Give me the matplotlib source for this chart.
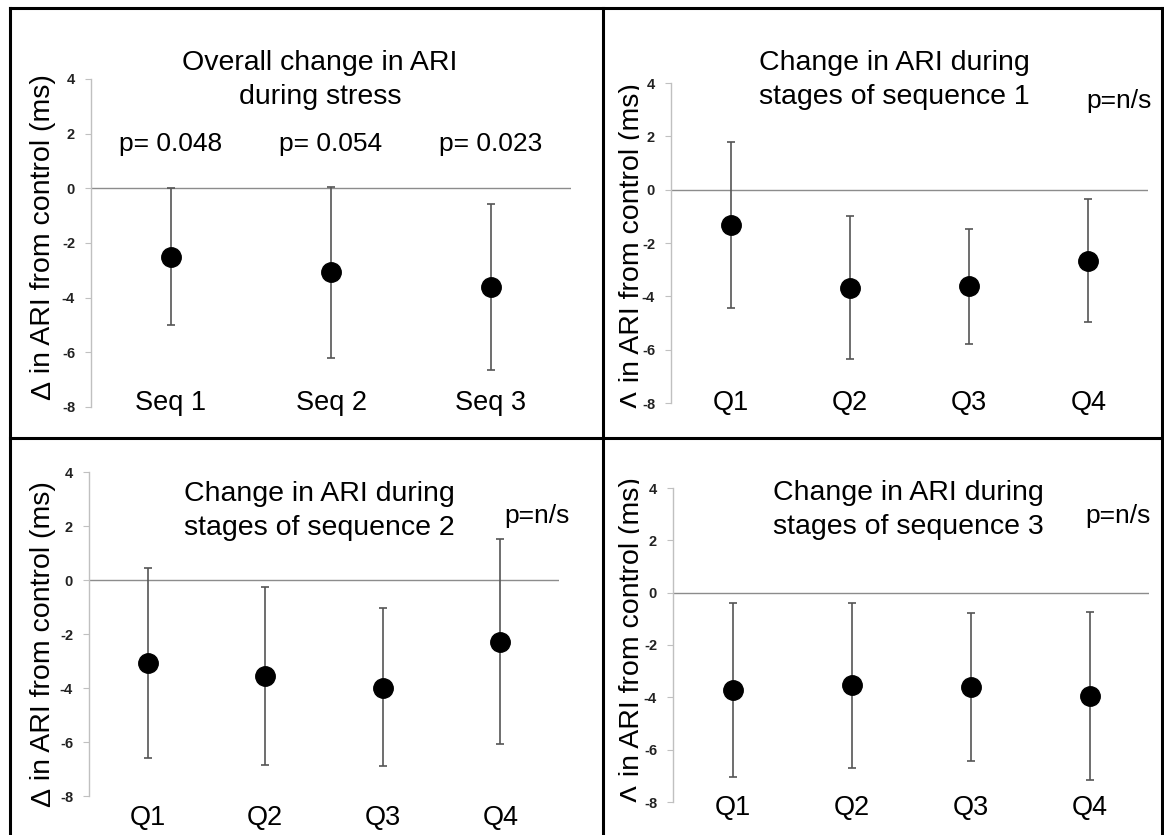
import numpy as np
import matplotlib
matplotlib.use("Agg")
import matplotlib.pyplot as plt
from matplotlib.lines import Line2D
from matplotlib.transforms import Bbox, TransformedBbox

plt.rcParams['font.family'] = ['Liberation Sans', 'DejaVu Sans']
plt.rcParams['axes.unicode_minus'] = False

W, H = 1164, 835

# overall change per sequence
seq_labels = ["Seq 1", "Seq 2", "Seq 3"]
seq_mean = [-2.52, -3.05, -3.60]
seq_upper = [0.0, 0.06, -0.57]
seq_lower = [-5.0, -6.22, -6.65]
seq_p = ["p= 0.048", "p= 0.054", "p= 0.023"]

# stages (quartiles) of each sequence
q_labels = ["Q1", "Q2", "Q3", "Q4"]
s1_mean = [-1.31, -3.69, -3.62, -2.66]
s1_upper = [1.79, -1.00, -1.47, -0.34]
s1_lower = [-4.44, -6.35, -5.77, -4.97]
s2_mean = [-3.09, -3.56, -4.00, -2.31]
s2_upper = [0.46, -0.25, -1.05, 1.51]
s2_lower = [-6.58, -6.87, -6.89, -6.09]
s3_mean = [-3.72, -3.53, -3.59, -3.95]
s3_upper = [-0.38, -0.38, -0.78, -0.73]
s3_lower = [-7.06, -6.71, -6.43, -7.16]

ylab_sym = "\u0394"
ylab_rest = " in ARI from control (ms)"
titles = ["Overall change in ARI\nduring stress",
          "Change in ARI during\nstages of sequence 1",
          "Change in ARI during\nstages of sequence 2",
          "Change in ARI during\nstages of sequence 3"]

fig = plt.figure(figsize=(W / 100, H / 100), dpi=100)
fig.patch.set_facecolor('white')


def fx(px):
    return px / W


def fy(py):
    return 1 - py / H


def panel(box, labels, mean, upper, lower, lab_off):
    l, r, t, b = box
    ax = fig.add_axes([fx(l), fy(b), (r - l) / W, (b - t) / H])
    ax.patch.set_alpha(0)
    x = np.arange(len(labels)) + 0.5
    mean = np.array(mean)
    yerr = [mean - np.array(lower), np.array(upper) - mean]
    ax.axhline(0, color='#8c8c8c', lw=1, zorder=1)
    ax.errorbar(x, mean, yerr=yerr, fmt='o', color='black', ms=14,
                ecolor='#555555', elinewidth=1.2, capsize=3, capthick=1.2,
                zorder=3)
    ax.set_xlim(0, len(labels))
    ax.set_ylim(-8, 4)
    for s in ['top', 'right', 'bottom']:
        ax.spines[s].set_visible(False)
    ax.spines['left'].set_color('#c0c0c0')
    ax.spines['left'].set_linewidth(1)
    ax.set_yticks(range(-8, 5, 2))
    ax.tick_params(axis='y', length=4, color='#c0c0c0', pad=7.5,
                   labelsize=10.5, labelcolor='#222222')
    for tl in ax.get_yticklabels():
        tl.set_fontweight('bold')
    ax.set_xticks(x, labels)
    ax.tick_params(axis='x', length=0, pad=lab_off * 0.72, labelsize=19.5)
    for tl in ax.get_xticklabels():
        tl.set_va('center')
    return ax, x


ax1, x1 = panel((91, 571, 79, 407), seq_labels, seq_mean, seq_upper, seq_lower, -4)
ax2, x2 = panel((671, 1148, 83, 403), q_labels, s1_mean, s1_upper, s1_lower, 0)
ax3, x3 = panel((89, 559, 472, 796), q_labels, s2_mean, s2_upper, s2_lower, 22)
ax4, x4 = panel((673, 1149, 488, 802), q_labels, s3_mean, s3_upper, s3_lower, 6)

for xi, p in zip(x1, seq_p):
    ax1.text(xi, 1.62, p, ha='center', va='center', fontsize=19)

# titles
for (cx, cy), t in zip([(320, 80), (894, 80.5), (319, 511), (908, 509.5)], titles):
    fig.text(fx(cx), fy(cy), t, ha='center', va='center', fontsize=20.5,
             linespacing=1.4)

for cx, cy in [(1119, 101), (537, 516), (1118, 516)]:
    fig.text(fx(cx), fy(cy), "p=n/s", ha='center', va='center', fontsize=19)

renderer = fig.canvas.get_renderer()


def clip_to(txt, x0, x1):
    txt.set_clip_on(True)
    txt.set_clip_box(TransformedBbox(
        Bbox.from_extents(fx(x0), 0, fx(x1), 1), fig.transFigure))


# y labels: baseline x, bottom y, clip x for delta and for the rest
for bx, by, clip in [(50, 400, None), (639, 409, (636, 638.5)),
                     (50, 807, None), (639, 803, (636, 638.5))]:
    kw = dict(rotation=90, rotation_mode='anchor', ha='left', va='baseline',
              fontsize=20.5)
    t1 = fig.text(fx(bx), fy(by), ylab_sym, **kw)
    dy = t1.get_window_extent(renderer).height
    t2 = fig.text(fx(bx), fy(by - dy), ylab_rest, **kw)
    if clip is not None:
        clip_to(t1, 604, clip[0])
        clip_to(t2, 604, clip[1])

# panel frames
frame = [((10, 8), (1162, 8)), ((10, 8), (10, 835)), ((1162, 8), (1162, 835)),
         ((603, 8), (603, 835)), ((10, 438), (1162, 438))]
for (xa, ya), (xb, yb) in frame:
    fig.add_artist(Line2D([fx(xa), fx(xb)], [fy(ya), fy(yb)],
                          transform=fig.transFigure, color='black', lw=2.2))

fig.savefig("out.png", dpi=100, facecolor='white')
